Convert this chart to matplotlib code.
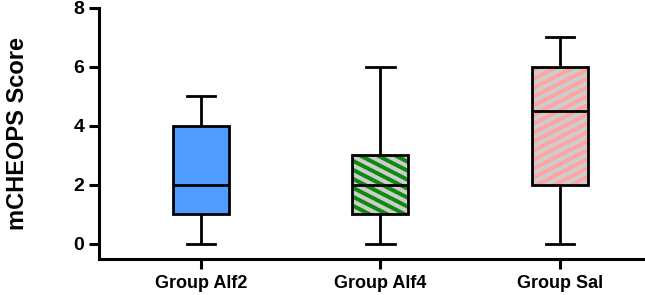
import numpy as np
import matplotlib; matplotlib.use("Agg")
import matplotlib.pyplot as plt
from matplotlib.collections import LineCollection
from matplotlib.patches import PathPatch
from matplotlib.transforms import IdentityTransform

# summary stats (min, Q1, median, Q3, max)
groups = ["Group Alf2", "Group Alf4", "Group Sal"]
whislo = [0, 0, 0]
q1 = [1, 1, 2]
med = [2, 2, 4.5]
q3 = [4, 3, 6]
whishi = [5, 6, 7]

fills = ["#4f9bff", "#0f8a0f", "#ffa3a3"]
stripes = [None, "down", "up"]   # hatch direction per box
STRIPE_C = "#cdcdcd"

DPI = 100
plt.rcParams["font.family"] = ["Liberation Sans", "DejaVu Sans"]
plt.rcParams["font.weight"] = "bold"

fig = plt.figure(figsize=(6.45, 2.95), dpi=DPI)
ax = fig.add_axes([99/645, 36/295, 1 - 99/645, (259-8)/295])

stats = [dict(label=g, whislo=a, q1=b, med=c, q3=d, whishi=e)
         for g, a, b, c, d, e in zip(groups, whislo, q1, med, q3, whishi)]
pos = np.arange(1, len(groups)+1)
lw = 2.0
bp = ax.bxp(stats, positions=pos, widths=0.312, capwidths=0.16,
            showfliers=False, patch_artist=True,
            boxprops=dict(linewidth=0),
            whiskerprops=dict(color="black", lw=lw, solid_capstyle="butt"),
            capprops=dict(color="black", lw=lw),
            medianprops=dict(color="black", lw=lw, solid_capstyle="butt", zorder=5))

ax.set_xlim(0.432, 3.474)
ax.set_ylim(-0.51, 8)

# stripes drawn in pixel space, clipped to each box
ang = np.deg2rad(27)
period, sw = 8.0, 4.0   # perpendicular period and stripe width, px
for box, fc, st in zip(bp["boxes"], fills, stripes):
    box.set_facecolor(fc)
    box.set_edgecolor("none")
    box.set_zorder(2)
    outline = PathPatch(box.get_path(), transform=ax.transData, fill=False,
                        edgecolor="black", lw=lw, zorder=4)
    ax.add_patch(outline)
    if st is None:
        continue
    ext = box.get_path().get_extents(ax.transData)
    cx, cy = ext.x0 + ext.width/2, ext.y0 + ext.height/2
    sgn = -1 if st == "down" else 1
    d = np.array([np.cos(ang), sgn*np.sin(ang)])
    n = np.array([-d[1], d[0]])
    L = ext.width + ext.height
    segs = []
    for k in np.arange(-L, L, period):
        c = np.array([cx, cy]) + k*n
        segs.append([c - L*d, c + L*d])
    lc = LineCollection(segs, colors=STRIPE_C, linewidths=sw*72/DPI,
                        transform=IdentityTransform(), zorder=3)
    ax.add_collection(lc)
    lc.set_clip_path(box)

for s in ["top", "right"]:
    ax.spines[s].set_visible(False)
for s in ["left", "bottom"]:
    ax.spines[s].set_linewidth(2.2)

ax.set_yticks([0, 2, 4, 6, 8])
ax.set_xticks(pos)
ax.set_xticklabels(groups)
ax.tick_params(axis="both", width=2.2, length=7.5, labelsize=13)
ax.tick_params(axis="y", pad=3, labelsize=14)
ax.tick_params(axis="x", pad=4)
ax.set_ylabel("mCHEOPS Score", fontsize=17, fontweight="bold")
ax.yaxis.set_label_coords(-0.128, 0.5)

fig.savefig("out.png", dpi=DPI)
